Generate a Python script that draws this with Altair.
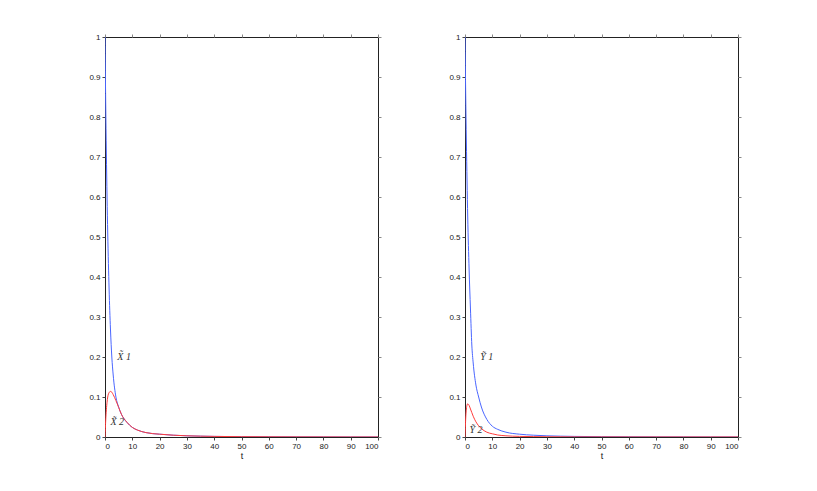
import altair as alt
import pandas as pd

t = [0, 0.25, 0.5, 0.75, 1, 1.5, 2, 2.5, 3, 4, 5, 6, 8, 10, 12, 15, 20, 25, 30, 40, 50, 60, 70, 80, 90, 100]

x1 = [1.0, 0.84, 0.71, 0.60, 0.51, 0.37, 0.27, 0.20, 0.155, 0.10, 0.075, 0.057, 0.037, 0.024, 0.017, 0.011,
      0.007, 0.0045, 0.003, 0.0015, 0.0008, 0.0005, 0.0003, 0.0002, 0.0001, 0.0001]
x2 = [0.0, 0.04, 0.068, 0.087, 0.10, 0.111, 0.114, 0.112, 0.106, 0.091, 0.074, 0.057, 0.037, 0.024, 0.017, 0.011,
      0.007, 0.0045, 0.003, 0.0015, 0.0008, 0.0005, 0.0003, 0.0002, 0.0001, 0.0001]

y1 = [1.0, 0.86, 0.74, 0.64, 0.55, 0.42, 0.32, 0.23, 0.185, 0.13, 0.10, 0.075, 0.044, 0.027, 0.019, 0.012,
      0.007, 0.0045, 0.003, 0.0015, 0.0008, 0.0005, 0.0003, 0.0002, 0.0001, 0.0001]
y2 = [0.0, 0.045, 0.07, 0.08, 0.083, 0.079, 0.07, 0.061, 0.052, 0.038, 0.028, 0.021, 0.012, 0.008, 0.005, 0.003,
      0.0015, 0.001, 0.0006, 0.0003, 0.0002, 0.0001, 0.0001, 0.0001, 0.0001, 0.0001]

left_labels = ["X\u0303 1", "X\u0303 2"]
left_label_t = [7.0, 4.5]
left_label_v = [0.2, 0.037]
right_labels = ["Y\u0303 1", "Y\u0303 2"]
right_label_t = [8.0, 4.0]
right_label_v = [0.2, 0.018]

x_ticks = [0, 10, 20, 30, 40, 50, 60, 70, 80, 90, 100]
y_ticks = [0, 0.1, 0.2, 0.3, 0.4, 0.5, 0.6, 0.7, 0.8, 0.9, 1]

BLUE = "#4a66ff"
RED = "#ff3c3c"
W, H = 273, 400


def panel(s1, s2, labels, lt, lv):
    df = pd.DataFrame({"t": t * 2, "v": s1 + s2,
                       "series": ["1"] * len(t) + ["2"] * len(t)})
    xs = alt.Scale(domain=[0, 100], nice=False, zero=False)
    ys = alt.Scale(domain=[0, 1], nice=False, zero=False)
    lines = alt.Chart(df).mark_line(strokeWidth=1, interpolate="monotone", clip=True).encode(
        x=alt.X("t:Q", scale=xs, title="t",
                axis=alt.Axis(values=x_ticks, grid=False, tickSize=3, labelPadding=2,
                              titlePadding=1, domain=False)),
        y=alt.Y("v:Q", scale=ys, title=None,
                axis=alt.Axis(values=y_ticks, grid=False, tickSize=3, labelPadding=2,
                              domain=False, format="~g")),
        color=alt.Color("series:N", scale=alt.Scale(domain=["1", "2"], range=[BLUE, RED]), legend=None),
    )
    ldf = pd.DataFrame({"t": lt, "v": lv, "label": labels})
    texts = alt.Chart(ldf).mark_text(font="Liberation Serif", fontSize=10, fontStyle="italic",
                                     color="#333333").encode(
        x=alt.X("t:Q", scale=xs,
                axis=alt.Axis(orient="top", values=x_ticks, labels=False, grid=False, tickSize=3,
                              domain=False, title=None, tickColor="#888888")),
        y=alt.Y("v:Q", scale=ys,
                axis=alt.Axis(orient="right", values=y_ticks, labels=False, grid=False, tickSize=3,
                              domain=False, title=None, tickColor="#888888")),
        text="label:N",
    )
    return alt.layer(lines, texts).resolve_axis(x="independent", y="independent").properties(width=W, height=H)


left = panel(x1, x2, left_labels, left_label_t, left_label_v)
right = panel(y1, y2, right_labels, right_label_t, right_label_v)

chart = alt.hconcat(left, right, spacing=66).properties(
    padding={"left": 80, "top": 24, "right": 5, "bottom": 5}
).configure_view(stroke="#222222", strokeWidth=1).configure_axis(
    labelFont="Liberation Sans", labelFontSize=8, labelColor="#222222",
    titleFont="Liberation Sans", titleFontSize=9, titleFontWeight="normal", titleColor="#222222",
    tickColor="#444444",
)

chart.save("out.html", embed_options={"renderer": "svg", "actions": False})
